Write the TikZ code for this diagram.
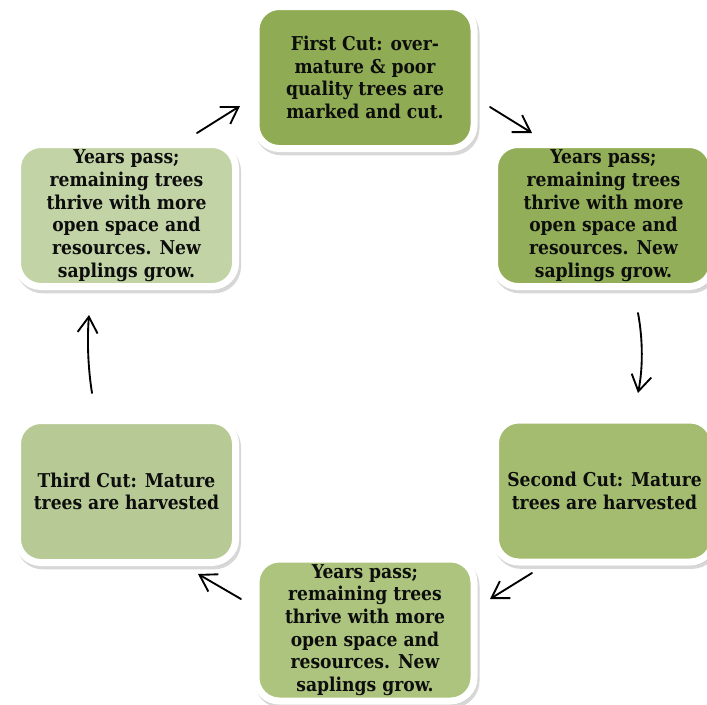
\documentclass[tikz,border=0pt]{standalone}
\usepackage{fontspec}
\setmainfont{DejaVu Serif Condensed}
\usetikzlibrary{arrows.meta,shadows}
\definecolor{cutA}{RGB}{143,171,83}
\definecolor{growA}{RGB}{146,174,88}
\definecolor{cutB}{RGB}{163,188,112}
\definecolor{growB}{RGB}{172,196,126}
\definecolor{cutC}{RGB}{183,202,149}
\definecolor{growC}{RGB}{194,211,166}
\begin{document}
\begin{tikzpicture}[x=0.75pt, y=-0.75pt, >={Straight Barb[length=12pt,width=15pt]}, line join=round, line cap=round,
	stagebox/.style={rectangle, rounded corners=17.5pt, draw=white, line width=5.25pt, minimum width=163.5pt, minimum height=106.5pt, inner sep=0pt, align=center, text=black!95, font=\fontsize{14.3}{17}\selectfont\bfseries,
		drop shadow={shadow xshift=1.5pt, shadow yshift=-2.5pt, fill=black!45, draw=black!45, line width=5.25pt, opacity=0.35}},
	cyclearrow/.style={->, line width=1.4pt}]
				\useasboundingbox (0,0) rectangle (707,704);
				\clip (0,0) rectangle (707,704);
				% stages of the cycle
				\node[stagebox, fill=cutA] (cut1) at (365,77.5) {First Cut: over-\\mature \& poor\\quality trees are\\marked and cut.};
				\node[stagebox, fill=growA] (grow1) at (603.5,215.5) {Years pass;\\remaining trees\\thrive with more\\open space and\\resources. New\\saplings grow.};
				\node[stagebox, fill=cutB] (cut2) at (604.5,491) {Second Cut: Mature\\trees are harvested};
				\node[stagebox, fill=growB] (grow2) at (365,630) {Years pass;\\remaining trees\\thrive with more\\open space and\\resources. New\\saplings grow.};
				\node[stagebox, fill=cutC] (cut3) at (126.5,491.5) {Third Cut: Mature\\trees are harvested};
				\node[stagebox, fill=growC] (grow3) at (126.5,215.5) {Years pass;\\remaining trees\\thrive with more\\open space and\\resources. New\\saplings grow.};
				% arrow ends
				\coordinate (a1s) at (197,133); \coordinate (a1e) at (240,106);
				\coordinate (a2s) at (490,107); \coordinate (a2e) at (532,133);
				\coordinate (a3s) at (638,313); \coordinate (a3e) at (638,393);
				\coordinate (a4s) at (532,573); \coordinate (a4e) at (490,599);
				\coordinate (a5s) at (241,599); \coordinate (a5e) at (198,574);
				\coordinate (a6s) at (92,393); \coordinate (a6e) at (89,315);
				\draw[cyclearrow] (a1s) -- (a1e);
				\draw[cyclearrow] (a2s) -- (a2e);
				\draw[cyclearrow] (a3s) .. controls (643,340) and (643,368) .. (a3e);
				\draw[cyclearrow] (a4s) -- (a4e);
				\draw[cyclearrow] (a5s) -- (a5e);
				\draw[cyclearrow] (a6s) .. controls (88,368) and (87,340) .. (a6e);
			\end{tikzpicture}
\end{document}
